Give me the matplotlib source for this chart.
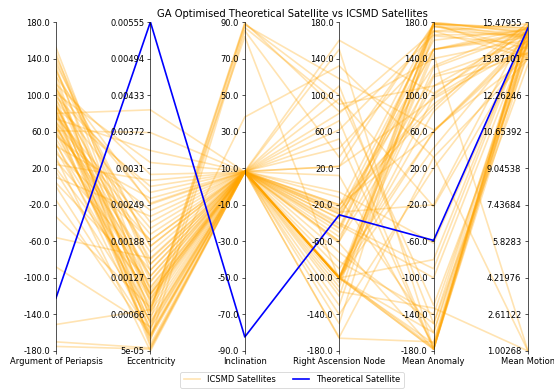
import matplotlib
matplotlib.use("Agg")
import matplotlib.pyplot as plt
from matplotlib.lines import Line2D
import numpy as np

columns = ["Argument of Periapsis", "Eccentricity", "Inclination",
           "Right Ascension Node", "Mean Anomaly", "Mean Motion"]

# ICSMD catalogue satellites (one entry per satellite)
arg_periapsis = [152, 146, 138, 131, 126, 120, 116, 112, 108, 104, 100, 97, 94, 80, 91, 88,
                 86, 84, 82, 79, 77, 74, 72, 70, 67, 64, 61, 58, 55, 52, 48, 44,
                 40, 36, 32, 28, 24, 20, 16, 10, 4, -15, -33, -56, -88, -151,
                 -170, -175, 110, 90, 76, 66, 102, 62, 46, 98, 122, 134, 87, 106,
                 83, 0, 142, 58, 70, 128]
eccentricity = [0.00105, 0.00085, 0.00140, 0.00058, 0.00180, 0.00250, 0.00032, 0.00300,
                0.00122, 0.00072, 0.00158, 0.00012, 0.00220, 0.00408, 0.00050, 0.00130,
                0.00280, 0.00092, 0.00022, 0.00170, 0.00062, 0.00340, 0.00100, 0.00200,
                0.00042, 0.00150, 0.00370, 0.00080, 0.00240, 0.00110, 0.00030, 0.00260,
                0.00068, 0.00190, 0.000048, 0.00140, 0.00290, 0.00100, 0.00055, 0.00230,
                0.00120, 0.00030, 0.00078, 0.00160, 0.00045, 0.00074, 0.00010, 0.00008,
                0.00070, 0.00100, 0.00210, 0.00130, 0.00320, 0.00052, 0.00090, 0.00270,
                0.00016, 0.00180, 0.00112, 0.00252, 0.00040, 0.00035, 0.00150, 0.00190,
                0.00026, 0.00095]
inclination = [8.4, 8.1, 7.9, 88.5, 8.3, 8.0, 8.2, 7.9, 8.5, 89.6, 8.1, 7.9, 8.3, 8.0, 7.9, 8.2,
               8.1, 8.4, 85.2, 7.9, 8.3, 8.0, 8.2, 7.9, 8.5, 8.1, 7.9, 38.0, 8.2, 8.0, 8.3, 7.9,
               89.0, 8.1, 8.0, 8.2, 8.0, 8.4, 7.9, 8.1, 8.3, 7.9, 8.2, 8.0, 8.1, 82.0,
               7.9, 8.0, 8.1, 7.9, 8.2, 8.0, 8.1, 8.3, 7.9, 8.2, 8.0, 7.9, 8.1, 8.3,
               87.0, 8.0, 8.2, 8.0, 8.2, 8.0]
raan = [-100, -35, -55, 118, -22, -100, 22, -46, -98, 82, -30, -62, 160, -101, -110, 96,
        -26, -72, 32, -99, -42, 62, -6, -100, -150, 12, -30, 132, -82, -100, 42, -120,
        100, -100, -165, -50, -100, -12, -25, -100, 80, -140, -60, -100, 52, -102,
        -90, 150, -105, -40, 22, -100, -20, 110, -60, -100, 72, -35, -130, -100,
        90, -115, -28, -45, -166, -20]
mean_anomaly = [175, 160, 122, 62, 178, -172, 96, 150, -176, 140, 170, -178, 102, 42, 179, -22,
                132, -150, 176, 82, -100, 166, -62, 120, 178, -174, 100, 32, -140, -178, 150, 180,
                -130, 60, 32, 178, 150, -160, 86, -178, 170, 20, 110, 145, -178, 98,
                60, -178, 165, -90, 178, -80, 90, -150, 178, 130, -178, 150, 170, -160,
                110, -133, -20, 175, -170, 60]
mean_motion = [14.95, 15.15, 14.62, 13.92, 15.22, 14.81, 14.43, 15.02, 15.31, 14.72, 15.40, 14.21,
               15.08, 14.90, 15.02, 14.52, 15.24, 13.62, 14.31, 15.33, 14.84, 14.93, 15.05, 14.12,
               15.21, 14.70, 15.42, 13.84, 14.63, 15.30, 14.93, 15.00, 14.03, 14.52, 1.002677,
               15.12, 14.80, 15.20, 15.479547, 14.60, 14.90, 14.40, 15.00, 1.0028, 15.30, 14.66,
               14.70, 15.10, 14.50, 15.20, 14.00, 15.30, 14.90, 15.10, 14.80, 15.00, 14.60,
               15.20, 13.90, 14.40, 14.10, 1.0029, 15.35, 14.75, 15.15, 14.85]

# GA optimised theoretical satellite
theoretical = [-122.0, 0.0055488, -82.3, -31.0, -59.0, 15.22]

# Fixed ranges for the angular elements; the others follow the data
fixed_ranges = {"Argument of Periapsis": (-180.0, 180.0),
                "Inclination": (-90.0, 90.0),
                "Right Ascension Node": (-180.0, 180.0),
                "Mean Anomaly": (-180.0, 180.0)}

icsmd = np.array([arg_periapsis, eccentricity, inclination, raan,
                  mean_anomaly, mean_motion], dtype=float).T
theo = np.array(theoretical, dtype=float)
everything = np.vstack([icsmd, theo])

ranges = []
for j, col in enumerate(columns):
    if col in fixed_ranges:
        ranges.append(fixed_ranges[col])
    else:
        ranges.append((everything[:, j].min(), everything[:, j].max()))
ranges = np.array(ranges)


def normalise(rows):
    return (rows - ranges[:, 0]) / (ranges[:, 1] - ranges[:, 0])


icsmd_n = normalise(icsmd)
theo_n = normalise(theo)
xs = np.arange(len(columns))
n_ticks = 10


def set_ticks(ax, j):
    lo, hi = ranges[j]
    step = (hi - lo) / (n_ticks - 1)
    labels = [str(round(lo + step * i, 5)) for i in range(n_ticks)]
    ax.set_yticks(np.linspace(0, 1, n_ticks))
    ax.set_yticklabels(labels)


DPI = 60
fig = plt.figure(figsize=(554 / DPI, 389 / DPI), dpi=DPI)
axes = fig.subplots(1, len(columns) - 1, sharey=False)
fig.subplots_adjust(left=56 / 554, right=528 / 554, top=1 - 22 / 389,
                    bottom=1 - 351 / 389, wspace=0)

for i, ax in enumerate(axes):
    for row in icsmd_n:
        ax.plot(xs, row, color="orange", alpha=0.3, lw=2)
    ax.plot(xs, theo_n, color="blue", lw=2)
    ax.set_xlim(xs[i], xs[i + 1])
    ax.set_ylim(0, 1)
    ax.set_xticks([xs[i]])
    ax.set_xticklabels([columns[i]])
    set_ticks(ax, i)
    for side in ("top", "right", "bottom"):
        ax.spines[side].set_visible(False)

# Final axis on the right edge
last = axes[-1]
last.set_xticks([xs[-2], xs[-1]])
last.set_xticklabels([columns[-2], columns[-1]])
twin = last.twinx()
twin.set_ylim(0, 1)
set_ticks(twin, len(columns) - 1)
for side in ("top", "left", "bottom"):
    twin.spines[side].set_visible(False)
twin.tick_params(axis="y", direction="in", pad=-8)
for lab in twin.get_yticklabels():
    lab.set_horizontalalignment("right")

axes[2].set_title("GA Optimised Theoretical Satellite vs ICSMD Satellites")

handles = [Line2D([], [], color="orange", alpha=0.3, lw=2),
           Line2D([], [], color="blue", lw=2)]
axes[2].legend(handles, ["ICSMD Satellites", "Theoretical Satellite"],
               loc="upper center", bbox_to_anchor=(0.5, -0.051), ncol=2)

fig.savefig("out.png", dpi=DPI)
